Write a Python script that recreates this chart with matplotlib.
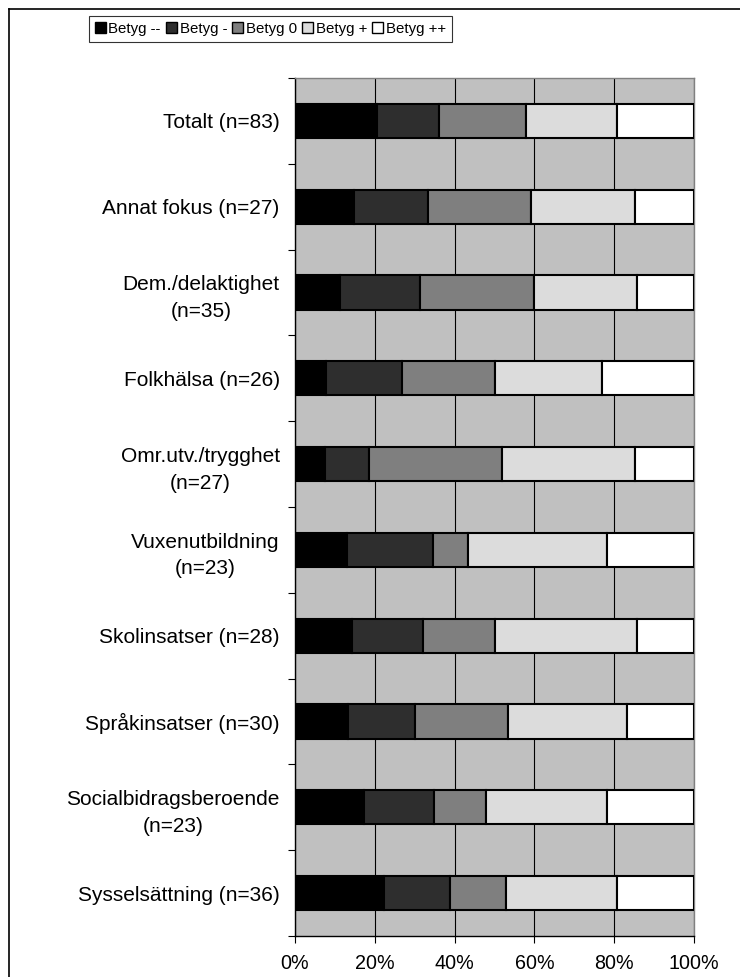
import matplotlib
matplotlib.use("Agg")
import matplotlib.pyplot as plt
from matplotlib.lines import Line2D
from matplotlib.patches import Patch

categories = [
    "Totalt (n=83)",
    "Annat fokus (n=27)",
    "Dem./delaktighet\n(n=35)",
    "Folkhälsa (n=26)",
    "Omr.utv./trygghet\n(n=27)",
    "Vuxenutbildning\n(n=23)",
    "Skolinsatser (n=28)",
    "Språkinsatser (n=30)",
    "Socialbidragsberoende\n(n=23)",
    "Sysselsättning (n=36)",
]

# andel (%) per betyg, läst ur bilden
betyg_mm = [20.5, 14.8, 11.4, 7.7, 7.4, 13.0, 14.3, 13.3, 17.4, 22.2]
betyg_m = [15.7, 18.5, 20.0, 19.2, 11.1, 21.7, 17.9, 16.7, 17.4, 16.7]
betyg_0 = [21.7, 25.9, 28.6, 23.1, 33.3, 8.7, 17.9, 23.3, 13.0, 13.9]
betyg_p = [22.9, 25.9, 25.7, 26.9, 33.3, 34.8, 35.7, 30.0, 30.4, 27.8]
betyg_pp = [19.3, 14.8, 14.3, 23.1, 14.8, 21.7, 14.3, 16.7, 21.7, 19.4]

series_names = ["Betyg --", "Betyg -", "Betyg 0", "Betyg +", "Betyg ++"]
x_ticks = [0, 20, 40, 60, 80, 100]
x_labels = ["0%", "20%", "40%", "60%", "80%", "100%"]

colors = ["#000000", "#2e2e2e", "#7f7f7f", "#dcdcdc", "#ffffff"]

W, H = 740, 977
FONT = ["Liberation Sans", "DejaVu Sans"]


def draw_chart(fname):
    plt.rcParams['font.family'] = FONT
    fig = plt.figure(figsize=(W / 100.0, H / 100.0), dpi=100)
    fig.patch.set_facecolor("white")

    left, right = 295.0 / W, 694.0 / W
    top, bottom = 1 - 78.0 / H, 1 - 936.0 / H
    ax = fig.add_axes([left, bottom, right - left, top - bottom])
    ax.set_facecolor("#c0c0c0")

    series = [betyg_mm, betyg_m, betyg_0, betyg_p, betyg_pp]
    ypos = list(range(len(categories)))
    lefts = [0.0] * len(categories)
    for name, vals, col in zip(series_names, series, colors):
        ax.barh(ypos, vals, left=lefts, height=0.4, color=col,
                edgecolor="black", linewidth=1.5, label=name, zorder=3)
        lefts = [l + v for l, v in zip(lefts, vals)]

    ax.set_xlim(0, 100)
    ax.set_ylim(len(categories) - 0.5, -0.5)
    ax.set_axisbelow(True)
    ax.grid(True, axis='x', color="black", linewidth=0.8, zorder=1)

    ax.set_xticks(x_ticks)
    ax.set_xticklabels(x_labels, fontsize=14.2)
    ax.tick_params(axis='x', direction='out', length=5, width=0.8, pad=8)

    ax.set_yticks([i - 0.5 for i in range(len(categories) + 1)])
    ax.set_yticklabels([])
    ax.set_yticks(ypos, minor=True)
    ax.set_yticklabels(categories, minor=True, fontsize=15,
                       multialignment='center', linespacing=1.5)
    ax.tick_params(axis='y', which='major', direction='out', length=5,
                   width=0.8)
    ax.tick_params(axis='y', which='minor', length=0, pad=11)

    ax.spines['left'].set_color("black")
    ax.spines['bottom'].set_color("black")
    ax.spines['top'].set_color("#808080")
    ax.spines['right'].set_color("#808080")
    for s in ax.spines.values():
        s.set_linewidth(1.0)

    handles = [Patch(facecolor=c, edgecolor="black", linewidth=1.0)
               for c in colors]
    leg = fig.legend(handles, series_names, loc='center',
                     bbox_to_anchor=(270.5 / W, 1 - 28.5 / H), ncol=5,
                     frameon=True, fancybox=False, shadow=False,
                     handlelength=0.7, handleheight=0.7,
                     handletextpad=0.2, columnspacing=0.35,
                     borderpad=0.4, borderaxespad=0,
                     prop={'size': 10.8})
    leg.get_frame().set_edgecolor("black")
    leg.get_frame().set_linewidth(0.8)

    # ram runt diagrammet (utanfor bilden till hoger och nedat)
    fig.add_artist(Line2D([8.5 / W, 8.5 / W], [1 - 9.0 / H, -0.1],
                          color="black", linewidth=1.2))
    fig.add_artist(Line2D([8.5 / W, 1.1], [1 - 9.0 / H, 1 - 9.0 / H],
                          color="black", linewidth=1.2))

    fig.savefig(fname, dpi=100)


def main():
    draw_chart("out.png")


if __name__ == "__main__":
    main()
